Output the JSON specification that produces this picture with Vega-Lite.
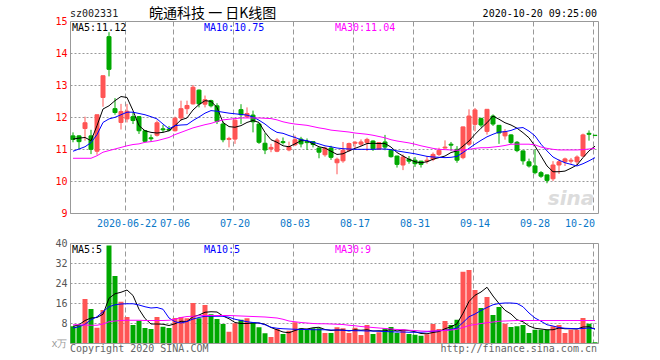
{
"$schema": "https://vega.github.io/schema/vega-lite/v6.json",
"autosize": {"type": "pad"},
"padding": {"left": 50, "top": 6, "right": 2, "bottom": 2},
"background": "white",
"spacing": 8,
"config": {
  "view": {"stroke": "#999", "strokeWidth": 1},
  "font": "DejaVu Sans Mono",
  "axis": {"labelFont": "DejaVu Sans Mono", "labelFontSize": 10, "ticks": false, "domain": false, "title": null, "labelOverlap": false, "gridOpacity": 1},
  "text": {"font": "DejaVu Sans Mono", "fontSize": 10}
},
"datasets": {"k": [
{"date":"2020-06-09","open":11.41,"high":11.52,"low":11.21,"close":11.30,"vol":6.7,"ma5":11.31,"ma10":10.93,"ma30":10.71,"vma5":6.7,"vma10":6.0,"vma30":7.3},
{"date":"2020-06-10","open":11.41,"high":11.43,"low":11.00,"close":11.23,"vol":7.2,"ma5":11.34,"ma10":11.00,"ma30":10.71,"vma5":7.3,"vma10":6.5,"vma30":7.3},
{"date":"2020-06-11","open":11.64,"high":12.01,"low":11.26,"close":11.82,"vol":17.6,"ma5":11.36,"ma10":11.07,"ma30":10.71,"vma5":9.0,"vma10":7.5,"vma30":7.2},
{"date":"2020-06-12","open":11.41,"high":11.60,"low":10.84,"close":10.99,"vol":13.6,"ma5":11.26,"ma10":11.20,"ma30":10.71,"vma5":10.0,"vma10":9.3,"vma30":7.1},
{"date":"2020-06-15","open":10.93,"high":12.07,"low":10.82,"close":12.07,"vol":6.1,"ma5":11.73,"ma10":11.45,"ma30":10.79,"vma5":10.2,"vma10":10.5,"vma30":7.1},
{"date":"2020-06-16","open":12.61,"high":13.29,"low":12.32,"close":13.29,"vol":13.2,"ma5":12.25,"ma10":11.83,"ma30":10.90,"vma5":11.5,"vma10":12.5,"vma30":7.6},
{"date":"2020-06-17","open":14.51,"high":14.65,"low":13.27,"close":13.49,"vol":39.0,"ma5":12.35,"ma10":11.94,"ma30":10.95,"vma5":17.9,"vma10":14.5,"vma30":8.5},
{"date":"2020-06-18","open":12.26,"high":12.59,"low":12.07,"close":12.14,"vol":26.8,"ma5":12.51,"ma10":11.99,"ma30":11.00,"vma5":19.7,"vma10":15.3,"vma30":8.8},
{"date":"2020-06-19","open":11.83,"high":12.41,"low":11.61,"close":12.17,"vol":16.5,"ma5":12.64,"ma10":12.07,"ma30":11.05,"vma5":20.3,"vma10":15.6,"vma30":9.0},
{"date":"2020-06-22","open":11.94,"high":12.41,"low":11.83,"close":12.18,"vol":10.4,"ma5":12.61,"ma10":12.15,"ma30":11.10,"vma5":21.2,"vma10":15.7,"vma30":9.1},
{"date":"2020-06-23","open":12.01,"high":12.15,"low":11.78,"close":11.89,"vol":7.2,"ma5":12.20,"ma10":12.15,"ma30":11.14,"vma5":19.0,"vma10":15.7,"vma30":9.1},
{"date":"2020-06-24","open":12.01,"high":12.03,"low":11.47,"close":11.57,"vol":8.9,"ma5":11.73,"ma10":12.11,"ma30":11.16,"vma5":13.5,"vma10":15.2,"vma30":9.1},
{"date":"2020-06-29","open":11.57,"high":11.59,"low":11.21,"close":11.24,"vol":6.0,"ma5":11.57,"ma10":12.07,"ma30":11.21,"vma5":9.8,"vma10":14.5,"vma30":9.0},
{"date":"2020-06-30","open":11.35,"high":11.45,"low":11.23,"close":11.32,"vol":5.6,"ma5":11.52,"ma10":12.01,"ma30":11.23,"vma5":7.6,"vma10":14.0,"vma30":9.0},
{"date":"2020-07-01","open":11.43,"high":11.89,"low":11.39,"close":11.82,"vol":10.4,"ma5":11.50,"ma10":11.94,"ma30":11.26,"vma5":7.6,"vma10":14.2,"vma30":9.0},
{"date":"2020-07-02","open":11.63,"high":11.75,"low":11.52,"close":11.60,"vol":6.5,"ma5":11.52,"ma10":11.78,"ma30":11.31,"vma5":7.5,"vma10":13.5,"vma30":9.0},
{"date":"2020-07-03","open":11.62,"high":11.72,"low":11.55,"close":11.59,"vol":6.0,"ma5":11.57,"ma10":11.63,"ma30":11.36,"vma5":7.0,"vma10":10.0,"vma30":9.1},
{"date":"2020-07-06","open":11.57,"high":12.01,"low":11.55,"close":11.96,"vol":10.0,"ma5":11.73,"ma10":11.73,"ma30":11.45,"vma5":7.7,"vma10":8.5,"vma30":9.5},
{"date":"2020-07-07","open":11.97,"high":12.51,"low":11.89,"close":12.26,"vol":10.4,"ma5":11.91,"ma10":11.75,"ma30":11.52,"vma5":8.7,"vma10":8.0,"vma30":10.2},
{"date":"2020-07-08","open":12.26,"high":12.51,"low":12.09,"close":12.36,"vol":9.9,"ma5":11.97,"ma10":11.76,"ma30":11.59,"vma5":8.6,"vma10":8.6,"vma30":10.6},
{"date":"2020-07-09","open":12.41,"high":13.00,"low":12.39,"close":12.93,"vol":16.0,"ma5":12.22,"ma10":11.89,"ma30":11.66,"vma5":10.5,"vma10":9.6,"vma30":10.7},
{"date":"2020-07-10","open":12.84,"high":12.86,"low":12.30,"close":12.41,"vol":9.9,"ma5":12.39,"ma10":12.00,"ma30":11.71,"vma5":11.2,"vma10":10.2,"vma30":10.9},
{"date":"2020-07-13","open":12.40,"high":12.67,"low":12.30,"close":12.54,"vol":15.2,"ma5":12.51,"ma10":12.12,"ma30":11.76,"vma5":12.3,"vma10":10.7,"vma30":11.0},
{"date":"2020-07-14","open":12.51,"high":12.54,"low":12.30,"close":12.35,"vol":11.5,"ma5":12.49,"ma10":12.20,"ma30":11.80,"vma5":12.5,"vma10":10.7,"vma30":11.0},
{"date":"2020-07-15","open":12.35,"high":12.43,"low":11.78,"close":11.86,"vol":9.6,"ma5":12.30,"ma10":12.18,"ma30":11.86,"vma5":12.4,"vma10":10.7,"vma30":11.0},
{"date":"2020-07-16","open":11.78,"high":11.86,"low":11.21,"close":11.29,"vol":7.6,"ma5":11.83,"ma10":12.15,"ma30":11.91,"vma5":10.8,"vma10":10.7,"vma30":11.0},
{"date":"2020-07-17","open":11.30,"high":11.38,"low":11.05,"close":11.33,"vol":4.5,"ma5":11.70,"ma10":12.12,"ma30":11.93,"vma5":9.7,"vma10":10.3,"vma30":11.0},
{"date":"2020-07-20","open":11.31,"high":11.93,"low":11.16,"close":11.90,"vol":7.9,"ma5":11.68,"ma10":12.10,"ma30":11.95,"vma5":8.2,"vma10":9.5,"vma30":10.9},
{"date":"2020-07-21","open":12.23,"high":12.40,"low":11.78,"close":12.07,"vol":9.3,"ma5":11.73,"ma10":12.08,"ma30":11.97,"vma5":7.8,"vma10":9.0,"vma30":10.8},
{"date":"2020-07-22","open":12.01,"high":12.30,"low":11.97,"close":12.11,"vol":9.9,"ma5":11.83,"ma10":12.06,"ma30":11.97,"vma5":7.8,"vma10":8.5,"vma30":10.7},
{"date":"2020-07-23","open":12.06,"high":12.20,"low":11.52,"close":11.85,"vol":8.3,"ma5":11.89,"ma10":12.00,"ma30":11.97,"vma5":8.0,"vma10":8.2,"vma30":10.6},
{"date":"2020-07-24","open":11.78,"high":11.80,"low":11.16,"close":11.21,"vol":6.3,"ma5":11.83,"ma10":11.90,"ma30":11.97,"vma5":8.0,"vma10":8.0,"vma30":10.5},
{"date":"2020-07-27","open":11.18,"high":11.49,"low":10.84,"close":10.97,"vol":3.9,"ma5":11.52,"ma10":11.78,"ma30":11.96,"vma5":7.5,"vma10":7.3,"vma30":10.4},
{"date":"2020-07-28","open":11.00,"high":11.16,"low":10.90,"close":11.05,"vol":2.4,"ma5":11.29,"ma10":11.63,"ma30":11.95,"vma5":6.2,"vma10":6.3,"vma30":10.2},
{"date":"2020-07-29","open":10.93,"high":11.34,"low":10.90,"close":11.28,"vol":5.6,"ma5":11.21,"ma10":11.52,"ma30":11.91,"vma5":5.3,"vma10":5.9,"vma30":10.0},
{"date":"2020-07-30","open":11.23,"high":11.36,"low":11.14,"close":11.20,"vol":3.6,"ma5":11.10,"ma10":11.49,"ma30":11.85,"vma5":4.4,"vma10":5.7,"vma30":9.5},
{"date":"2020-07-31","open":10.97,"high":11.23,"low":10.93,"close":11.07,"vol":4.9,"ma5":11.07,"ma10":11.42,"ma30":11.81,"vma5":4.1,"vma10":5.6,"vma30":8.8},
{"date":"2020-08-03","open":11.13,"high":11.42,"low":11.09,"close":11.29,"vol":8.3,"ma5":11.16,"ma10":11.36,"ma30":11.78,"vma5":5.0,"vma10":5.5,"vma30":8.5},
{"date":"2020-08-04","open":11.31,"high":11.38,"low":11.05,"close":11.16,"vol":5.9,"ma5":11.26,"ma10":11.29,"ma30":11.76,"vma5":5.7,"vma10":5.4,"vma30":8.2},
{"date":"2020-08-05","open":11.23,"high":11.33,"low":10.97,"close":11.20,"vol":5.3,"ma5":11.26,"ma10":11.26,"ma30":11.74,"vma5":5.6,"vma10":5.4,"vma30":8.0},
{"date":"2020-08-06","open":11.23,"high":11.25,"low":11.05,"close":11.14,"vol":5.9,"ma5":11.16,"ma10":11.21,"ma30":11.70,"vma5":6.1,"vma10":5.3,"vma30":7.8},
{"date":"2020-08-07","open":11.03,"high":11.05,"low":10.71,"close":10.90,"vol":5.9,"ma5":11.07,"ma10":11.16,"ma30":11.66,"vma5":6.3,"vma10":5.3,"vma30":7.7},
{"date":"2020-08-10","open":10.82,"high":11.07,"low":10.76,"close":11.03,"vol":4.0,"ma5":11.03,"ma10":11.10,"ma30":11.63,"vma5":5.4,"vma10":5.3,"vma30":7.7},
{"date":"2020-08-11","open":11.03,"high":11.10,"low":10.66,"close":10.74,"vol":4.0,"ma5":10.93,"ma10":11.07,"ma30":11.59,"vma5":5.0,"vma10":5.2,"vma30":7.6},
{"date":"2020-08-12","open":10.57,"high":10.73,"low":10.21,"close":10.68,"vol":6.3,"ma5":10.83,"ma10":11.03,"ma30":11.57,"vma5":5.2,"vma10":5.2,"vma30":7.5},
{"date":"2020-08-13","open":10.63,"high":11.22,"low":10.57,"close":10.96,"vol":5.9,"ma5":10.85,"ma10":11.01,"ma30":11.55,"vma5":5.2,"vma10":5.1,"vma30":7.4},
{"date":"2020-08-14","open":10.96,"high":11.20,"low":10.91,"close":11.17,"vol":4.0,"ma5":10.94,"ma10":11.00,"ma30":11.53,"vma5":4.8,"vma10":5.0,"vma30":7.1},
{"date":"2020-08-17","open":11.18,"high":11.25,"low":11.02,"close":11.21,"vol":6.1,"ma5":11.02,"ma10":10.99,"ma30":11.50,"vma5":5.3,"vma10":4.9,"vma30":6.9},
{"date":"2020-08-18","open":11.15,"high":11.30,"low":11.09,"close":11.22,"vol":3.2,"ma5":11.09,"ma10":10.99,"ma30":11.48,"vma5":5.1,"vma10":4.9,"vma30":6.6},
{"date":"2020-08-19","open":11.20,"high":11.35,"low":10.94,"close":11.30,"vol":7.2,"ma5":11.17,"ma10":10.99,"ma30":11.46,"vma5":5.3,"vma10":4.8,"vma30":6.4},
{"date":"2020-08-20","open":11.25,"high":11.27,"low":10.94,"close":11.01,"vol":3.6,"ma5":11.18,"ma10":10.99,"ma30":11.43,"vma5":4.8,"vma10":4.8,"vma30":6.2},
{"date":"2020-08-21","open":10.99,"high":11.21,"low":10.98,"close":11.20,"vol":4.3,"ma5":11.17,"ma10":11.00,"ma30":11.39,"vma5":4.9,"vma10":4.7,"vma30":6.0},
{"date":"2020-08-24","open":11.22,"high":11.44,"low":10.96,"close":11.06,"vol":5.9,"ma5":11.17,"ma10":11.00,"ma30":11.35,"vma5":4.8,"vma10":4.6,"vma30":5.8},
{"date":"2020-08-25","open":10.96,"high":10.98,"low":10.73,"close":10.76,"vol":6.4,"ma5":11.06,"ma10":10.98,"ma30":11.29,"vma5":5.5,"vma10":4.5,"vma30":5.6},
{"date":"2020-08-26","open":10.78,"high":10.79,"low":10.42,"close":10.52,"vol":4.0,"ma5":10.89,"ma10":10.94,"ma30":11.25,"vma5":4.8,"vma10":4.4,"vma30":5.4},
{"date":"2020-08-27","open":10.50,"high":10.83,"low":10.34,"close":10.75,"vol":5.3,"ma5":10.78,"ma10":10.91,"ma30":11.22,"vma5":5.2,"vma10":4.4,"vma30":5.3},
{"date":"2020-08-28","open":10.68,"high":10.78,"low":10.54,"close":10.62,"vol":3.6,"ma5":10.68,"ma10":10.88,"ma30":11.19,"vma5":5.0,"vma10":4.3,"vma30":5.1},
{"date":"2020-08-31","open":10.65,"high":10.75,"low":10.44,"close":10.54,"vol":3.3,"ma5":10.60,"ma10":10.85,"ma30":11.15,"vma5":4.5,"vma10":4.3,"vma30":5.0},
{"date":"2020-09-01","open":10.62,"high":10.63,"low":10.42,"close":10.52,"vol":2.9,"ma5":10.57,"ma10":10.81,"ma30":11.10,"vma5":3.8,"vma10":4.3,"vma30":4.8},
{"date":"2020-09-02","open":10.62,"high":10.78,"low":10.54,"close":10.65,"vol":3.5,"ma5":10.60,"ma10":10.77,"ma30":11.06,"vma5":3.7,"vma10":4.5,"vma30":4.7},
{"date":"2020-09-03","open":10.68,"high":10.89,"low":10.62,"close":10.83,"vol":7.6,"ma5":10.68,"ma10":10.75,"ma30":11.02,"vma5":4.2,"vma10":4.7,"vma30":4.8},
{"date":"2020-09-04","open":10.83,"high":11.04,"low":10.78,"close":10.96,"vol":5.6,"ma5":10.73,"ma10":10.74,"ma30":10.99,"vma5":4.6,"vma10":4.9,"vma30":4.9},
{"date":"2020-09-07","open":11.03,"high":11.27,"low":11.01,"close":11.06,"vol":8.8,"ma5":10.78,"ma10":10.73,"ma30":10.98,"vma5":5.7,"vma10":5.1,"vma30":5.0},
{"date":"2020-09-08","open":11.15,"high":11.22,"low":10.94,"close":11.12,"vol":7.2,"ma5":10.89,"ma10":10.74,"ma30":10.97,"vma5":6.5,"vma10":5.4,"vma30":5.2},
{"date":"2020-09-09","open":10.99,"high":11.09,"low":10.57,"close":10.65,"vol":9.3,"ma5":10.94,"ma10":10.77,"ma30":10.96,"vma5":7.7,"vma10":6.0,"vma30":5.5},
{"date":"2020-09-10","open":10.73,"high":11.70,"low":10.68,"close":11.69,"vol":28.5,"ma5":11.09,"ma10":10.89,"ma30":10.97,"vma5":11.9,"vma10":8.2,"vma30":6.2},
{"date":"2020-09-11","open":11.15,"high":12.24,"low":11.09,"close":12.03,"vol":29.2,"ma5":11.25,"ma10":11.02,"ma30":10.99,"vma5":16.6,"vma10":10.5,"vma30":7.0},
{"date":"2020-09-14","open":11.77,"high":12.28,"low":11.55,"close":12.22,"vol":21.2,"ma5":11.46,"ma10":11.15,"ma30":11.02,"vma5":19.1,"vma10":11.6,"vma30":7.4},
{"date":"2020-09-15","open":11.95,"high":11.98,"low":11.68,"close":11.75,"vol":14.0,"ma5":11.65,"ma10":11.27,"ma30":11.04,"vma5":20.4,"vma10":13.0,"vma30":7.8},
{"date":"2020-09-16","open":11.55,"high":12.24,"low":11.45,"close":12.24,"vol":18.4,"ma5":11.82,"ma10":11.38,"ma30":11.04,"vma5":22.3,"vma10":14.2,"vma30":8.1},
{"date":"2020-09-17","open":12.03,"high":12.08,"low":11.72,"close":11.78,"vol":11.2,"ma5":12.03,"ma10":11.46,"ma30":11.06,"vma5":18.8,"vma10":15.3,"vma30":8.4},
{"date":"2020-09-18","open":11.74,"high":11.75,"low":11.16,"close":11.50,"vol":14.4,"ma5":11.93,"ma10":11.53,"ma30":11.08,"vma5":15.8,"vma10":15.8,"vma30":8.7},
{"date":"2020-09-21","open":11.41,"high":11.62,"low":11.29,"close":11.54,"vol":7.7,"ma5":11.82,"ma10":11.54,"ma30":11.11,"vma5":13.1,"vma10":16.0,"vma30":8.8},
{"date":"2020-09-22","open":11.44,"high":11.46,"low":11.15,"close":11.20,"vol":6.4,"ma5":11.75,"ma10":11.58,"ma30":11.15,"vma5":11.6,"vma10":16.0,"vma30":8.9},
{"date":"2020-09-23","open":11.21,"high":11.25,"low":10.90,"close":10.95,"vol":6.7,"ma5":11.65,"ma10":11.65,"ma30":11.15,"vma5":9.3,"vma10":15.8,"vma30":9.0},
{"date":"2020-09-24","open":10.94,"high":10.95,"low":10.51,"close":10.63,"vol":7.2,"ma5":11.51,"ma10":11.67,"ma30":11.15,"vma5":8.5,"vma10":14.5,"vma30":9.0},
{"date":"2020-09-25","open":10.60,"high":10.70,"low":10.42,"close":10.47,"vol":4.0,"ma5":11.35,"ma10":11.56,"ma30":11.15,"vma5":6.8,"vma10":12.0,"vma30":9.0},
{"date":"2020-09-28","open":10.47,"high":10.99,"low":10.21,"close":10.26,"vol":5.3,"ma5":11.09,"ma10":11.41,"ma30":11.13,"vma5":5.9,"vma10":10.0,"vma30":9.0},
{"date":"2020-09-29","open":10.26,"high":10.31,"low":10.10,"close":10.15,"vol":5.3,"ma5":10.78,"ma10":11.15,"ma30":11.06,"vma5":5.6,"vma10":8.7,"vma30":9.0},
{"date":"2020-09-30","open":10.19,"high":10.20,"low":9.93,"close":10.02,"vol":5.3,"ma5":10.47,"ma10":10.94,"ma30":11.02,"vma5":5.3,"vma10":7.3,"vma30":9.0},
{"date":"2020-10-09","open":10.07,"high":10.62,"low":10.00,"close":10.50,"vol":6.7,"ma5":10.29,"ma10":10.75,"ma30":10.99,"vma5":5.3,"vma10":6.8,"vma30":9.0},
{"date":"2020-10-12","open":10.50,"high":10.68,"low":10.22,"close":10.60,"vol":7.2,"ma5":10.29,"ma10":10.65,"ma30":10.97,"vma5":6.0,"vma10":6.2,"vma30":9.0},
{"date":"2020-10-13","open":10.60,"high":10.73,"low":10.47,"close":10.69,"vol":4.0,"ma5":10.31,"ma10":10.57,"ma30":10.97,"vma5":5.7,"vma10":5.9,"vma30":9.0},
{"date":"2020-10-14","open":10.62,"high":10.72,"low":10.54,"close":10.65,"vol":5.3,"ma5":10.40,"ma10":10.52,"ma30":10.97,"vma5":5.7,"vma10":5.8,"vma30":9.0},
{"date":"2020-10-15","open":10.60,"high":10.80,"low":10.50,"close":10.75,"vol":5.3,"ma5":10.50,"ma10":10.47,"ma30":10.97,"vma5":5.6,"vma10":5.7,"vma30":9.0},
{"date":"2020-10-16","open":10.78,"high":11.48,"low":10.75,"close":11.44,"vol":10.0,"ma5":10.73,"ma10":10.54,"ma30":10.98,"vma5":6.4,"vma10":5.8,"vma30":9.0},
{"date":"2020-10-19","open":11.49,"high":11.58,"low":11.26,"close":11.46,"vol":7.7,"ma5":10.94,"ma10":10.63,"ma30":11.00,"vma5":6.5,"vma10":6.0,"vma30":9.0},
{"date":"2020-10-20","open":11.43,"high":11.43,"low":11.42,"close":11.42,"vol":0.3,"ma5":11.09,"ma10":10.73,"ma30":11.02,"vma5":5.5,"vma10":5.7,"vma30":9.0}
]},
"vconcat": [
{
  "width": 528, "height": 192,
  "data": {"name": "k"},
  "encoding": {"x": {"field": "date", "type": "ordinal", "scale": {"paddingInner": 0, "paddingOuter": 0},
    "axis": {"values": ["2020-06-22","2020-07-06","2020-07-20","2020-08-03","2020-08-17","2020-08-31","2020-09-14","2020-09-28","2020-10-20"],
      "labelExpr": "datum.value == '2020-06-22' ? datum.value : substring(datum.value, 5)",
      "labelAngle": 0, "labelColor": "#0a78c8", "labelPadding": 5, "labelOverlap": false,
      "labelAlign": {"condition": {"test": "datum.value == '2020-10-20'", "value": "right"}, "value": "center"},
      "grid": true, "gridDash": [5, 3], "gridColor": "#999", "gridWidth": 1, "bandPosition": 0.17}}},
  "layer": [
    {"mark": {"type": "rule", "strokeWidth": 1},
     "encoding": {"y": {"field": "low", "type": "quantitative", "scale": {"domain": [9, 15], "nice": false, "zero": false},
        "axis": {"values": [9,10,11,12,13,14,15], "tickCount": 20, "format": "d", "labelColor": "#ff0000", "labelPadding": 3, "labelOverlap": false, "labelFlush": false, "grid": true, "gridDash": [2, 2], "gridColor": "#999", "gridWidth": 1}},
      "y2": {"field": "high"},
      "color": {"condition": {"test": "datum.close >= datum.open", "value": "#ff5555"}, "value": "#00a800"}}},
    {"mark": {"type": "bar", "size": 4, "strokeWidth": 1},
     "encoding": {"y": {"field": "open", "type": "quantitative"}, "y2": {"field": "close"},
      "color": {"condition": {"test": "datum.close >= datum.open", "value": "#ff5555"}, "value": "#00a800"},
      "stroke": {"condition": {"test": "datum.close >= datum.open", "value": "#ff5555"}, "value": "#00a800"}}},
    {"mark": {"type": "line", "color": "#000000", "strokeWidth": 1}, "encoding": {"y": {"field": "ma5", "type": "quantitative"}}},
    {"mark": {"type": "line", "color": "#0000ff", "strokeWidth": 1}, "encoding": {"y": {"field": "ma10", "type": "quantitative"}}},
    {"mark": {"type": "line", "color": "#ff00ff", "strokeWidth": 1}, "encoding": {"y": {"field": "ma30", "type": "quantitative"}}},
    {"data": {"values": [{}]}, "mark": {"type": "text", "text": "MA5:11.12", "align": "left", "baseline": "top", "dy": 2, "dx": -1, "color": "#000"},
     "encoding": {"x": {"datum": "2020-06-09", "type": "ordinal"}, "y": {"datum": 15, "type": "quantitative"}}},
    {"data": {"values": [{}]}, "mark": {"type": "text", "text": "MA10:10.75", "align": "left", "baseline": "top", "dy": 2, "dx": -1, "color": "#0000ff"},
     "encoding": {"x": {"datum": "2020-07-13", "type": "ordinal"}, "y": {"datum": 15, "type": "quantitative"}}},
    {"data": {"values": [{}]}, "mark": {"type": "text", "text": "MA30:11.04", "align": "left", "baseline": "top", "dy": 2, "dx": -2, "color": "#ff00ff"},
     "encoding": {"x": {"datum": "2020-08-12", "type": "ordinal"}, "y": {"datum": 15, "type": "quantitative"}}},
    {"data": {"values": [{}]}, "mark": {"type": "text", "text": "sz002331", "align": "left", "baseline": "alphabetic", "dy": -4, "dx": -3, "color": "#222"},
     "encoding": {"x": {"datum": "2020-06-09", "type": "ordinal"}, "y": {"datum": 15, "type": "quantitative"}}},
    {"data": {"values": [{}]}, "mark": {"type": "text", "text": "皖通科技 一 日K线图", "font": "Noto Sans CJK SC", "fontSize": 14, "align": "left", "baseline": "alphabetic", "dy": -3, "dx": -2, "color": "#000"},
     "encoding": {"x": {"datum": "2020-06-30", "type": "ordinal"}, "y": {"datum": 15, "type": "quantitative"}}},
    {"data": {"values": [{}]}, "mark": {"type": "text", "text": "2020-10-20 09:25:00", "align": "right", "baseline": "alphabetic", "dy": -4, "dx": 2, "color": "#000"},
     "encoding": {"x": {"datum": "2020-10-20", "type": "ordinal"}, "y": {"datum": 15, "type": "quantitative"}}},
    {"data": {"values": [{}]}, "mark": {"type": "text", "text": "sina", "font": "DejaVu Sans", "fontSize": 20, "fontStyle": "italic", "fontWeight": "bold", "align": "center", "baseline": "middle", "color": "#dcdcdc"},
     "encoding": {"x": {"datum": "2020-10-14", "type": "ordinal"}, "y": {"datum": 9.45, "type": "quantitative"}}}
  ]
},
{
  "width": 528, "height": 100,
  "data": {"name": "k"},
  "encoding": {"x": {"field": "date", "type": "ordinal", "scale": {"paddingInner": 0, "paddingOuter": 0},
    "axis": {"values": ["2020-06-22","2020-07-06","2020-07-20","2020-08-03","2020-08-17","2020-08-31","2020-09-14","2020-09-28","2020-10-20"],
      "labels": false, "grid": true, "gridDash": [5, 3], "gridColor": "#999", "gridWidth": 1, "bandPosition": 0.17}}},
  "layer": [
    {"mark": {"type": "bar", "size": 5},
     "encoding": {"y": {"field": "vol", "type": "quantitative", "scale": {"domain": [0, 40], "nice": false},
        "axis": {"values": [0, 8, 16, 24, 32, 40], "tickCount": 20, "format": "d", "labelExpr": "datum.value == 0 ? 'x万' : datum.label",
          "labelColor": {"condition": {"test": "datum.value == 0", "value": "#999"}, "value": "#555"},
          "labelPadding": 3, "labelOverlap": false, "labelFlush": false, "grid": true, "gridDash": [2, 2], "gridColor": "#999", "gridWidth": 1}},
      "color": {"condition": {"test": "datum.close >= datum.open", "value": "#ff5555"}, "value": "#00a800"}}},
    {"mark": {"type": "line", "color": "#000000", "strokeWidth": 1}, "encoding": {"y": {"field": "vma5", "type": "quantitative"}}},
    {"mark": {"type": "line", "color": "#0000ff", "strokeWidth": 1}, "encoding": {"y": {"field": "vma10", "type": "quantitative"}}},
    {"mark": {"type": "line", "color": "#ff00ff", "strokeWidth": 1}, "encoding": {"y": {"field": "vma30", "type": "quantitative"}}},
    {"data": {"values": [{}]}, "mark": {"type": "text", "text": "MA5:5", "align": "left", "baseline": "top", "dy": 2, "dx": -1, "color": "#000"},
     "encoding": {"x": {"datum": "2020-06-09", "type": "ordinal"}, "y": {"datum": 40, "type": "quantitative"}}},
    {"data": {"values": [{}]}, "mark": {"type": "text", "text": "MA10:5", "align": "left", "baseline": "top", "dy": 2, "dx": -1, "color": "#0000ff"},
     "encoding": {"x": {"datum": "2020-07-13", "type": "ordinal"}, "y": {"datum": 40, "type": "quantitative"}}},
    {"data": {"values": [{}]}, "mark": {"type": "text", "text": "MA30:9", "align": "left", "baseline": "top", "dy": 2, "dx": -2, "color": "#ff00ff"},
     "encoding": {"x": {"datum": "2020-08-12", "type": "ordinal"}, "y": {"datum": 40, "type": "quantitative"}}},
    {"data": {"values": [{}]}, "mark": {"type": "text", "text": "Copyright 2020 SINA.COM", "align": "left", "baseline": "top", "dy": 1, "dx": -3, "color": "#666"},
     "encoding": {"x": {"datum": "2020-06-09", "type": "ordinal"}, "y": {"datum": 0, "type": "quantitative"}}},
    {"data": {"values": [{}]}, "mark": {"type": "text", "text": "http://finance.sina.com.cn", "align": "right", "baseline": "top", "dy": 1, "dx": 2, "color": "#666"},
     "encoding": {"x": {"datum": "2020-10-20", "type": "ordinal"}, "y": {"datum": 0, "type": "quantitative"}}}
  ]
}
]
}
